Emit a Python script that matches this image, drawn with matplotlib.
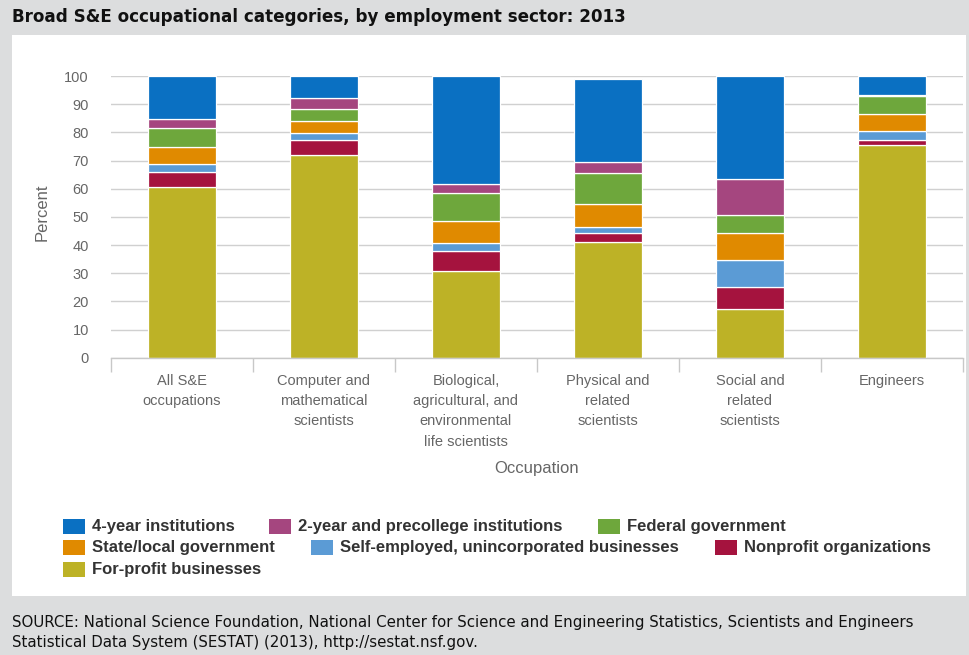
import matplotlib
matplotlib.use("Agg")
import matplotlib.pyplot as plt
from matplotlib.patches import Rectangle
import numpy as np

# ---- data ----
categories = [
    "All S&E\noccupations",
    "Computer and\nmathematical\nscientists",
    "Biological,\nagricultural, and\nenvironmental\nlife scientists",
    "Physical and\nrelated\nscientists",
    "Social and\nrelated\nscientists",
    "Engineers",
]
series_names = [
    "For-profit businesses",
    "Nonprofit organizations",
    "Self-employed, unincorporated businesses",
    "State/local government",
    "Federal government",
    "2-year and precollege institutions",
    "4-year institutions",
]
for_profit    = [60.7, 72.0, 30.8, 41.2, 17.2, 75.5]
nonprofit     = [5.1, 5.3, 7.1, 3.2, 7.8, 1.9]
self_employed = [3.1, 2.5, 2.7, 2.1, 9.7, 3.1]
state_local   = [5.9, 4.1, 7.9, 8.1, 9.4, 5.9]
federal       = [6.6, 4.5, 10.1, 10.8, 6.4, 6.5]
two_year      = [3.5, 3.9, 2.9, 3.9, 13.1, 0.5]
four_year     = [15.1, 7.7, 38.5, 29.5, 36.4, 6.6]
y_ticks = [0, 10, 20, 30, 40, 50, 60, 70, 80, 90, 100]

series_values = [for_profit, nonprofit, self_employed, state_local, federal, two_year, four_year]
colors = ["#BDB226", "#A5133E", "#5B9BD5", "#E08A00", "#6EA73C", "#A5467F", "#0A70C2"]

W, H = 970, 655
fig = plt.figure(figsize=(W / 100, H / 100), dpi=100)
fig.patch.set_facecolor("#DCDDDE")

def fx(px):
    return px / W

def fy(py):
    return 1 - py / H

# white panel
fig.patches.append(Rectangle((fx(12), fy(596)), fx(966) - fx(12), fy(35) - fy(596),
                             transform=fig.transFigure, facecolor="white", edgecolor="none", zorder=-10))

# title
fig.text(fx(12), fy(17), "Broad S&E occupational categories, by employment sector: 2013",
         fontsize=12.1, fontweight="bold", family="DejaVu Sans", color="#111111",
         ha="left", va="center")

# axes
ax = fig.add_axes([fx(111), fy(357.7), fx(963) - fx(111), fy(76) - fy(357.7)])
ax.set_zorder(1)
ax.set_facecolor("none")
x = np.arange(len(categories))
bottom = np.zeros(len(categories))
for name, vals, col in zip(series_names, series_values, colors):
    ax.bar(x, vals, bottom=bottom, width=0.48, color=col, edgecolor="white",
           linewidth=0.9, label=name, zorder=3)
    bottom += np.array(vals)

ax.set_xlim(-0.5, len(categories) - 0.5)
ax.set_ylim(0, 100)
ax.set_yticks(y_ticks)
ax.set_yticklabels([str(v) for v in y_ticks], family="Liberation Sans", fontsize=10.5, color="#666666")
ax.tick_params(axis="y", length=0, pad=22 * 0.72)
ax.grid(axis="y", color="#D0D0D0", linewidth=1, zorder=0)
ax.set_axisbelow(True)
for s in ["top", "right", "left"]:
    ax.spines[s].set_visible(False)
ax.spines["bottom"].set_color("#C8C8C8")
ax.spines["bottom"].set_linewidth(1)
ax.spines["bottom"].set_zorder(4)

ax.set_xticks(x)
ax.set_xticklabels(categories, family="Liberation Sans", fontsize=10.5, color="#666666",
                   linespacing=1.55)
ax.tick_params(axis="x", which="major", length=0, pad=12)
ax.set_xticks(np.arange(-0.5, len(categories)), minor=True)
ax.tick_params(axis="x", which="minor", length=10, width=1, color="#C8C8C8")

fig.text(fx(42), fy(212), "Percent", rotation=90, family="Liberation Sans", fontsize=12,
         color="#666666", ha="center", va="center")
fig.text(fx(537), fy(468), "Occupation", family="Liberation Sans", fontsize=12,
         color="#666666", ha="center", va="center")

# legend (flow layout as in the reference)
legend_order = [6, 5, 4, 3, 2, 1, 0]
legend_pos = [(63, 526.5), (269, 526.5), (598, 526.5),
              (63, 547.5), (311, 547.5), (715, 547.5),
              (63, 569.5)]
for idx, (lx, ly) in zip(legend_order, legend_pos):
    fig.patches.append(Rectangle((fx(lx), fy(ly + 7.5)), fx(22), 15 / H,
                                 transform=fig.transFigure, facecolor=colors[idx],
                                 edgecolor="none", zorder=2))
    fig.text(fx(lx + 29), fy(ly), series_names[idx], family="Liberation Sans",
             fontweight="bold", fontsize=12, color="#333333", ha="left", va="center")

# source
fig.text(fx(12), fy(622), "SOURCE: National Science Foundation, National Center for Science and Engineering Statistics, Scientists and Engineers",
         family="DejaVu Sans", fontsize=10.8, color="#111111", ha="left", va="center")
fig.text(fx(12), fy(643), "Statistical Data System (SESTAT) (2013), http://sestat.nsf.gov.",
         family="DejaVu Sans", fontsize=10.8, color="#111111", ha="left", va="center")

fig.savefig("out.png", dpi=100, facecolor=fig.get_facecolor())
